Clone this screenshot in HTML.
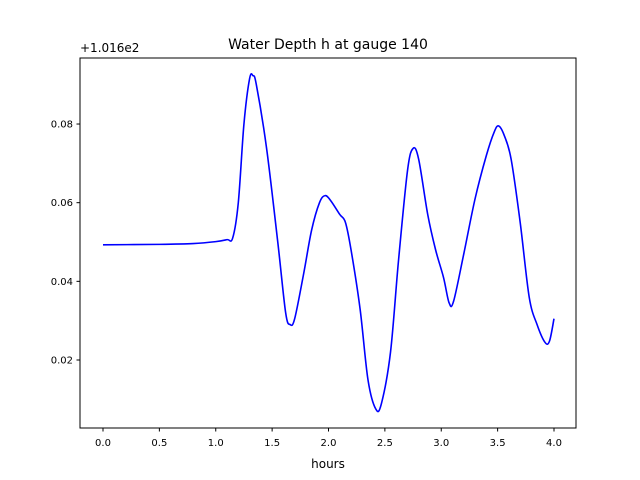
<!DOCTYPE html>
<html><head><meta charset="utf-8"><style>
body{margin:0;background:#fff}
svg{display:block;font-family:"DejaVu Sans","Liberation Sans",sans-serif}
</style></head><body>
<svg id="chart" width="640" height="480" viewBox="0 0 640 480">
<rect width="640" height="480" fill="#fff"/>
<text x="328" y="49" text-anchor="middle" font-size="14">Water Depth h at gauge 140</text>
<text x="80" y="52" font-size="12">+1.016e2</text>
<text x="328" y="468" text-anchor="middle" font-size="12">hours</text>
<g id="ticks"></g>
<path id="line" fill="none" stroke="#0000ff" stroke-width="1.6"/>
<rect x="80" y="58" width="496" height="370" fill="none" stroke="#000" stroke-width="1"/>
</svg>
<script>
const hours=[0,0.5,0.8,1.0,1.1,1.15,1.2,1.25,1.3,1.33,1.36,1.45,1.55,1.62,1.66,1.7,1.78,1.85,1.92,1.97,2.02,2.1,2.15,2.2,2.28,2.35,2.42,2.47,2.55,2.62,2.7,2.75,2.8,2.88,2.95,3.02,3.07,3.11,3.2,3.3,3.4,3.47,3.51,3.56,3.62,3.7,3.78,3.85,3.92,3.96,4.0];
const depth=[0.0493,0.0494,0.0496,0.0501,0.0506,0.051,0.060,0.080,0.0915,0.0923,0.090,0.074,0.050,0.032,0.029,0.0305,0.042,0.053,0.060,0.0618,0.0605,0.057,0.055,0.048,0.033,0.015,0.0075,0.009,0.022,0.045,0.068,0.0738,0.071,0.057,0.048,0.041,0.0345,0.035,0.047,0.061,0.072,0.078,0.0795,0.077,0.071,0.055,0.036,0.029,0.0245,0.0248,0.0305];
const xTicks=[0,0.5,1.0,1.5,2.0,2.5,3.0,3.5,4.0];
const xTickLabels=["0.0","0.5","1.0","1.5","2.0","2.5","3.0","3.5","4.0"];
const yTicks=[0.02,0.04,0.06,0.08];
const yTickLabels=["0.02","0.04","0.06","0.08"];
const X=v=>103+v*112.75;
const Y=v=>360-(v-0.02)*3933;
const NS="http://www.w3.org/2000/svg";
const g=document.getElementById('ticks');
function mk(tag,attrs){const e=document.createElementNS(NS,tag);for(const k in attrs)e.setAttribute(k,attrs[k]);g.appendChild(e);return e;}
xTicks.forEach((t,i)=>{
 const l=mk('line',{x1:X(t),x2:X(t),y1:428,y2:431.5,stroke:'#000'});
 
 
 const tx=mk('text',{x:X(t),y:446,'text-anchor':'middle','font-size':10});
 
 
 tx.textContent=xTickLabels[i];
});
yTicks.forEach((t,i)=>{
 const l=mk('line',{x1:76.5,x2:80,y1:Y(t),y2:Y(t),stroke:'#000'});
 
 
 const tx=mk('text',{x:73,y:Y(t)+3.5,'text-anchor':'end','font-size':10});
 
 
 tx.textContent=yTickLabels[i];
});
const p=hours.map((h,i)=>[X(h),Y(depth[i])]);
let d=`M${p[0][0]},${p[0][1]}`;
for(let i=0;i<p.length-1;i++){
 const p0=p[Math.max(0,i-1)],p1=p[i],p2=p[i+1],p3=p[Math.min(p.length-1,i+2)];
 const c1=[p1[0]+(p2[0]-p0[0])/6,p1[1]+(p2[1]-p0[1])/6];
 const c2=[p2[0]-(p3[0]-p1[0])/6,p2[1]-(p3[1]-p1[1])/6];
 d+=` C${c1[0]},${c1[1]} ${c2[0]},${c2[1]} ${p2[0]},${p2[1]}`;
}
document.getElementById('line').setAttribute('d',d);
</script>
</body></html>
